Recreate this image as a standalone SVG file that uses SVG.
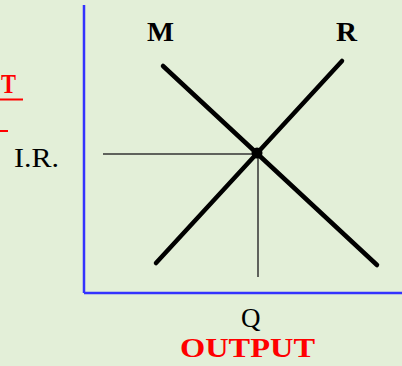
<svg xmlns="http://www.w3.org/2000/svg" width="402" height="366" viewBox="0 0 402 366">
<style>
.axis{stroke:#3333ff;stroke-width:2.5;fill:none}
.curve{stroke:#000;stroke-width:4.5;stroke-linecap:round;fill:none}
.guide{stroke:#333;stroke-width:1.5;fill:none}
.lbl{font-family:"Liberation Serif",serif;font-size:27px;fill:#000}
.red{font-family:"Liberation Serif",serif;font-weight:bold;fill:#ff0000}
</style>
<rect width="402" height="366" fill="#e3efd8"/>
<g id="axes">
<line class="axis" x1="84" y1="5" x2="84" y2="293"/>
<line class="axis" x1="84" y1="293" x2="402" y2="293"/>
</g>
<g id="ylabel">
<text class="red" x="1" y="93" font-size="27" textLength="15" lengthAdjust="spacingAndGlyphs">T</text>
<line x1="0" y1="99.5" x2="23" y2="99.5" stroke="#ff0000" stroke-width="2"/>
<line x1="0" y1="131" x2="8" y2="131" stroke="#ff0000" stroke-width="2"/>
</g>
<g id="connectors">
<line class="guide" x1="103" y1="154" x2="258" y2="154"/>
<line class="guide" x1="258" y1="154" x2="258" y2="277"/>
<line class="curve" x1="163" y1="66" x2="377" y2="265"/>
<line class="curve" x1="156" y1="263" x2="342" y2="61"/>
</g>
<g id="equilibrium">
<circle cx="257" cy="153" r="5.5" fill="#000"/>
</g>
<g id="labels">
<text class="lbl" x="147" y="41" font-weight="bold" textLength="27" lengthAdjust="spacingAndGlyphs">M</text>
<text class="lbl" x="336" y="41" font-weight="bold" textLength="21" lengthAdjust="spacingAndGlyphs">R</text>
<text class="lbl" x="14" y="167" textLength="45" lengthAdjust="spacingAndGlyphs">I.R.</text>
<text class="lbl" x="241" y="327" font-size="25">Q</text>
<text class="red" x="180" y="357" font-size="27" textLength="135" lengthAdjust="spacingAndGlyphs">OUTPUT</text>
</g>
</svg>
